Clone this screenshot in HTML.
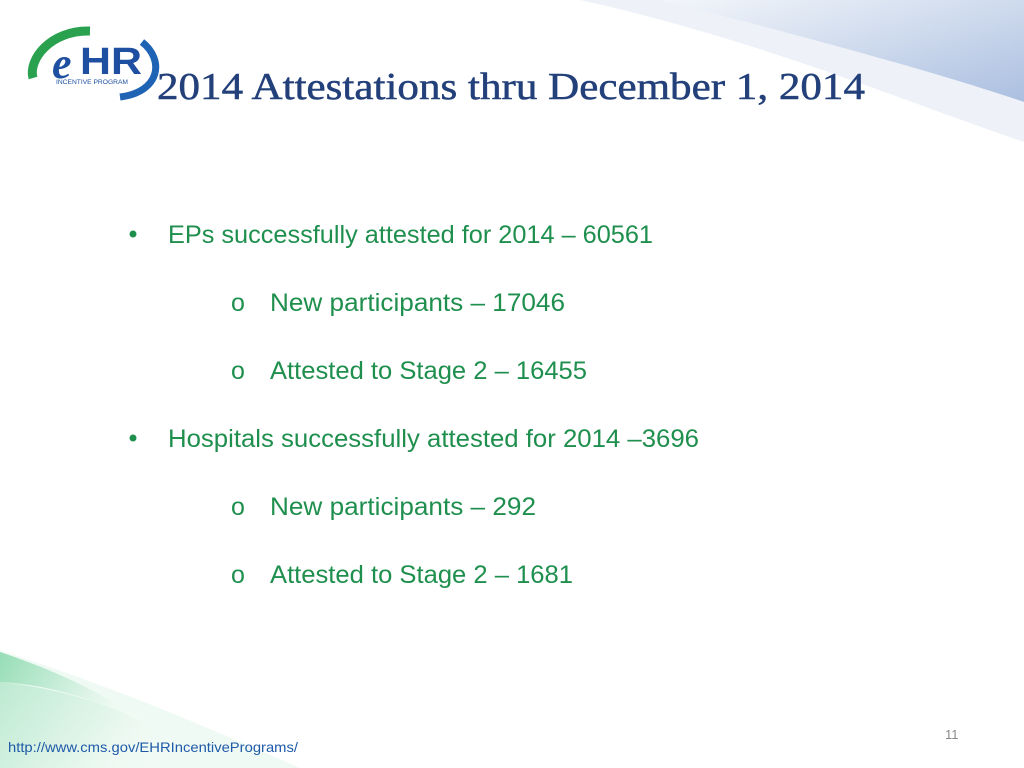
<!DOCTYPE html>
<html><head><meta charset="utf-8"><style>
html,body{margin:0;padding:0;background:#fff;}
svg{display:block;}
.b{font-family:"Liberation Sans",sans-serif;font-size:25px;fill:#1f8f4e;}
</style></head><body>
<svg width="1024" height="768" viewBox="0 0 1024 768">
<defs>
<linearGradient id="gb" x1="0" y1="0" x2="1" y2="1">
<stop offset="0" stop-color="#f4f7fb"/><stop offset="1" stop-color="#9fb6dc"/></linearGradient>
<linearGradient id="gg" x1="0" y1="0" x2="1" y2="0.3">
<stop offset="0" stop-color="#7fd6a6"/><stop offset="0.6" stop-color="#d8f2e3"/><stop offset="1" stop-color="#ffffff" stop-opacity="0"/></linearGradient>
</defs>
<g>
<path d="M580 0 L1024 0 L1024 142 C900 100 760 40 580 0Z" fill="#eef2f8"/>
<path d="M660 0 L1024 0 L1024 102 C930 70 780 30 660 0Z" fill="url(#gb)" opacity="0.85"/>
</g>
<g>
<path d="M0 650 C90 680 170 710 300 768 L0 768Z" fill="#f0faf4"/>
<path d="M0 652 C60 672 120 700 170 740 C110 700 50 685 0 682Z" fill="url(#gg)" opacity="0.8"/>
<path d="M0 682 C80 690 160 720 210 768 L0 768Z" fill="url(#gg)" opacity="0.45"/>
</g>
<g>
<path d="M90 31 C50 30 28 60 33 78" stroke="#2aa14e" stroke-width="9" fill="none"/>
<path d="M142 42 C165 60 160 92 120 97" stroke="#1e63b4" stroke-width="7" fill="none"/>
<text x="52" y="78" font-family="Liberation Serif,serif" font-style="italic" font-weight="bold" font-size="44" fill="#1e4fa0">e</text>
<text x="80" y="74" font-family="Liberation Sans,sans-serif" font-weight="bold" font-size="38" fill="#1e4fa0" textLength="62" lengthAdjust="spacingAndGlyphs">HR</text>
<text x="56" y="84" font-family="Liberation Sans,sans-serif" font-size="6" fill="#1e4fa0" textLength="72" lengthAdjust="spacingAndGlyphs">INCENTIVE PROGRAM</text>
</g>
<text x="157" y="99" font-family="Liberation Serif,serif" font-size="38" fill="#23407a" stroke="#23407a" stroke-width="0.5" textLength="708" lengthAdjust="spacingAndGlyphs">2014 Attestations thru December 1, 2014</text>
<g>
<circle cx="133" cy="234" r="3.5" fill="#1f8f4e"/>
<text class="b" x="168" y="243" textLength="485" lengthAdjust="spacingAndGlyphs">EPs successfully attested for 2014 – 60561</text>
<text class="b" x="231" y="311" font-size="20">o</text>
<text class="b" x="270" y="311" textLength="295" lengthAdjust="spacingAndGlyphs">New participants – 17046</text>
<text class="b" x="231" y="379" font-size="20">o</text>
<text class="b" x="270" y="379" textLength="317" lengthAdjust="spacingAndGlyphs">Attested to Stage 2 – 16455</text>
<circle cx="133" cy="438" r="3.5" fill="#1f8f4e"/>
<text class="b" x="168" y="447" textLength="531" lengthAdjust="spacingAndGlyphs">Hospitals successfully attested for 2014 –3696</text>
<text class="b" x="231" y="515" font-size="20">o</text>
<text class="b" x="270" y="515" textLength="266" lengthAdjust="spacingAndGlyphs">New participants – 292</text>
<text class="b" x="231" y="583" font-size="20">o</text>
<text class="b" x="270" y="583" textLength="303" lengthAdjust="spacingAndGlyphs">Attested to Stage 2 – 1681</text>
</g>
<text x="8" y="752" font-family="Liberation Sans,sans-serif" font-size="14" fill="#1e5aa8" textLength="290" lengthAdjust="spacingAndGlyphs">http://www.cms.gov/EHRIncentivePrograms/</text>
<text x="945" y="739" font-family="Liberation Sans,sans-serif" font-size="13" fill="#8a8a8a">11</text>
</svg>
</body></html>
